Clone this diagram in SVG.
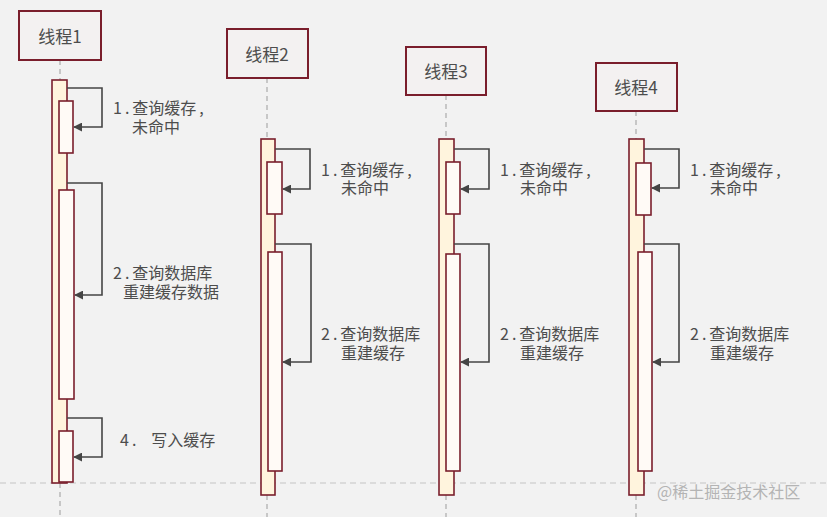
<svg xmlns="http://www.w3.org/2000/svg" width="827" height="517" viewBox="0 0 827 517">
<defs>
<style>
.bg{fill:#f2f2f2}
.head{fill:#f3f1f1;stroke:#7a1e2c;stroke-width:2}
.life{stroke:#b0b0b0;stroke-width:1.3;stroke-dasharray:5 4;fill:none}
.outer{fill:#fff4dd;stroke:#7a1e2c;stroke-width:1.6}
.inner{fill:#fffaf6;stroke:#7a1e2c;stroke-width:1.6}
.msg{stroke:#454545;stroke-width:1.6;fill:none;marker-end:url(#ah)}
.t{font-family:"Noto Sans CJK SC","Noto Sans",sans-serif;fill:#4d4d4d}
.title{font-size:17px;text-anchor:middle}
.lbl{font-size:16px}
.num{letter-spacing:3px}
.wm{font-family:"Noto Sans CJK SC",sans-serif;font-size:16px;fill:#b4b4b4}
</style>
<marker id="ah" viewBox="0 0 10 10" refX="9" refY="5" markerWidth="9" markerHeight="9" markerUnits="userSpaceOnUse" orient="auto">
<path d="M0,0 L10,5 L0,10 z" fill="#454545"/>
</marker>
</defs>
<rect class="bg" x="0" y="0" width="827" height="517"/>
<line x1="0" y1="483" x2="827" y2="483" stroke="#c4c4c4" stroke-width="1.2" stroke-dasharray="6 4"/>

<g id="thread1">
<line class="life" x1="60" y1="60" x2="60" y2="80"/>
<line class="life" x1="60" y1="483" x2="60" y2="517"/>
<rect class="head" x="19" y="11" width="82" height="49"/>
<text class="t title" x="60" y="43">线程1</text>
<rect class="outer" x="52" y="80" width="15" height="403"/>
<rect class="inner" x="59" y="101" width="14" height="52"/>
<rect class="inner" x="59" y="190" width="15" height="209"/>
<rect class="inner" x="59" y="431" width="14" height="51"/>
</g>

<g id="thread2">
<line class="life" x1="267" y1="78" x2="267" y2="139"/>
<line class="life" x1="267" y1="495" x2="267" y2="517"/>
<rect class="head" x="227" y="29" width="81" height="49"/>
<text class="t title" x="267" y="61">线程2</text>
<rect class="outer" x="261" y="139" width="14" height="356"/>
<rect class="inner" x="267" y="162" width="15" height="52"/>
<rect class="inner" x="268" y="252" width="14" height="219"/>
</g>

<g id="thread3">
<line class="life" x1="446" y1="95" x2="446" y2="139"/>
<line class="life" x1="446" y1="495" x2="446" y2="517"/>
<rect class="head" x="406" y="47" width="80" height="48"/>
<text class="t title" x="446" y="78">线程3</text>
<rect class="outer" x="439" y="139" width="15" height="356"/>
<rect class="inner" x="446" y="162" width="14" height="52"/>
<rect class="inner" x="446" y="254" width="14" height="217"/>
</g>

<g id="thread4">
<line class="life" x1="636" y1="111" x2="636" y2="139"/>
<line class="life" x1="636" y1="495" x2="636" y2="517"/>
<rect class="head" x="596" y="63" width="81" height="48"/>
<text class="t title" x="636" y="94">线程4</text>
<rect class="outer" x="629" y="139" width="15" height="356"/>
<rect class="inner" x="636" y="163" width="15" height="52"/>
<rect class="inner" x="638" y="252" width="14" height="219"/>
</g>

<g id="connectors">
<path class="msg" d="M67,88 H102 V127 H74"/>
<path class="msg" d="M67,183 H102 V295 H75"/>
<path class="msg" d="M67,418 H102 V457 H74"/>
<path class="msg" d="M275,149 H310 V189 H283"/>
<path class="msg" d="M275,244 H311 V362 H283"/>
<path class="msg" d="M454,149 H489 V189 H461"/>
<path class="msg" d="M454,244 H489 V362 H461"/>
<path class="msg" d="M644,149 H679 V188 H652"/>
<path class="msg" d="M644,244 H679 V362 H653"/>
</g>

<g id="labels">
<text class="t lbl" x="113" y="114"><tspan class="num">1.</tspan>查询缓存<tspan dx="3">,</tspan></text>
<text class="t lbl" x="132" y="133">未命中</text>
<text class="t lbl" x="113" y="279"><tspan class="num">2.</tspan>查询数据库</text>
<text class="t lbl" x="123" y="298">重建缓存数据</text>
<text class="t lbl" x="120" y="446"><tspan class="num">4.</tspan><tspan dx="12">写入缓存</tspan></text>
<text class="t lbl" x="321" y="176"><tspan class="num">1.</tspan>查询缓存<tspan dx="3">,</tspan></text>
<text class="t lbl" x="341" y="194">未命中</text>
<text class="t lbl" x="321" y="340"><tspan class="num">2.</tspan>查询数据库</text>
<text class="t lbl" x="341" y="359">重建缓存</text>
<text class="t lbl" x="500" y="176"><tspan class="num">1.</tspan>查询缓存<tspan dx="3">,</tspan></text>
<text class="t lbl" x="520" y="194">未命中</text>
<text class="t lbl" x="500" y="340"><tspan class="num">2.</tspan>查询数据库</text>
<text class="t lbl" x="520" y="359">重建缓存</text>
<text class="t lbl" x="690" y="176"><tspan class="num">1.</tspan>查询缓存<tspan dx="3">,</tspan></text>
<text class="t lbl" x="710" y="194">未命中</text>
<text class="t lbl" x="690" y="340"><tspan class="num">2.</tspan>查询数据库</text>
<text class="t lbl" x="710" y="359">重建缓存</text>
</g>
<text class="wm" x="657" y="498">@稀土掘金技术社区</text>
</svg>
